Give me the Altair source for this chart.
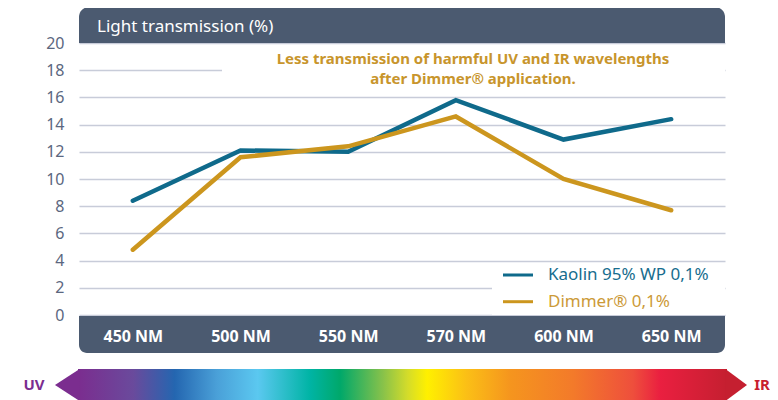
import altair as alt
import pandas as pd

# ---- data ----
categories = ["450 NM", "500 NM", "550 NM", "570 NM", "600 NM", "650 NM"]
kaolin = [8.4, 12.1, 12.0, 15.8, 12.9, 14.4]
dimmer = [4.8, 11.6, 12.4, 14.6, 10.0, 7.7]
series_names = ["Kaolin 95% WP 0,1%", "Dimmer® 0,1%"]
series_colors = ["#0f6a8b", "#cc961e"]
legend_text_colors = ["#176d8e", "#cc9a38"]
y_ticks = [0, 2, 4, 6, 8, 10, 12, 14, 16, 18, 20]
title_text = "Light transmission (%)"
note_lines = ["Less transmission of harmful UV and IR wavelengths",
              "after Dimmer® application."]

rows = []
for c, v in zip(categories, kaolin):
    rows.append({"wl": c, "series": series_names[0], "value": v})
for c, v in zip(categories, dimmer):
    rows.append({"wl": c, "series": series_names[1], "value": v})
df = pd.DataFrame(rows)

FONT = "Noto Sans"
SLATE = "#4b5a70"
W, H = 646, 272

one = alt.Data(values=[{}])

color_scale = alt.Scale(domain=series_names, range=series_colors)
x_enc = alt.X("wl:N", sort=categories,
              scale=alt.Scale(domain=categories, padding=0.5),
              axis=alt.Axis(title=None, labelAngle=0, ticks=False, domain=False,
                            labelColor="white", labelFont=FONT, labelFontSize=16,
                            labelFontWeight="bold", labelBaseline="middle",
                            labelPadding=21, zindex=2, grid=False))
y_enc = alt.Y("value:Q", scale=alt.Scale(domain=[0, 20], nice=False, zero=True),
              axis=alt.Axis(title=None, values=y_ticks, ticks=False, domain=False,
                            labelColor="#5b6780", labelFont=FONT, labelFontSize=16,
                            labelPadding=15, gridColor="#c8ccd9", gridWidth=1.5,
                            zindex=0))

# header bar
header = alt.Chart(one).mark_rect(color=SLATE, cornerRadiusTopLeft=10,
                                  cornerRadiusTopRight=10).encode(
    x=alt.value(0), x2=alt.value(W), y=alt.value(-36), y2=alt.value(0))
header_text = alt.Chart(one).mark_text(text=title_text, color="white", font=FONT,
                                       fontSize=17, align="left",
                                       baseline="alphabetic").encode(
    x=alt.value(18), y=alt.value(-11))

# bottom bar
bottom = alt.Chart(one).mark_rect(color=SLATE, cornerRadiusBottomLeft=8,
                                  cornerRadiusBottomRight=8).encode(
    x=alt.value(0), x2=alt.value(W), y=alt.value(273), y2=alt.value(310))

# white backgrounds for note & legend
note_bg = alt.Chart(one).mark_rect(color="white").encode(
    x=alt.value(143), x2=alt.value(W), y=alt.value(5), y2=alt.value(47))
legend_bg = alt.Chart(one).mark_rect(color="white").encode(
    x=alt.value(413), x2=alt.value(W), y=alt.value(220), y2=alt.value(272))

note_df = pd.DataFrame({"t": note_lines, "ny": [20.5, 41]})
note = alt.Chart(note_df).mark_text(color="#c8952c", font=FONT,
                                    fontSize=15, fontWeight="bold", align="center",
                                    baseline="alphabetic").encode(
    x=alt.value(394), y=alt.Y("ny:Q", scale=None), text="t:N")

# lines
base = alt.Chart(df)
line_k = base.transform_filter(alt.datum.series == series_names[0]).mark_line(
    strokeWidth=4.5, strokeCap="round", strokeJoin="miter").encode(
    x=x_enc, y=y_enc,
    color=alt.Color("series:N", scale=color_scale, legend=None))
line_d = base.transform_filter(alt.datum.series == series_names[1]).mark_line(
    strokeWidth=4.5, strokeCap="round", strokeJoin="miter").encode(
    x=x_enc, y=y_enc,
    color=alt.Color("series:N", scale=color_scale, legend=None))

# manual legend
leg_df = pd.DataFrame({"series": series_names,
                       "ly": [232, 258.7],
                       "tc": legend_text_colors})
leg_lines = alt.Chart(leg_df).mark_rule(strokeWidth=3).encode(
    x=alt.value(424), x2=alt.value(454),
    y=alt.Y("ly:Q", scale=None),
    color=alt.Color("series:N", scale=color_scale, legend=None))
leg_text = alt.Chart(leg_df).mark_text(font=FONT, fontSize=17, align="left",
                                       baseline="middle").encode(
    x=alt.value(469), y=alt.Y("ly:Q", scale=None),
    text="series:N", color=alt.Color("tc:N", scale=None))

# spectrum arrow
stops = [(0.0, "#7b2d8f"), (0.085, "#6a4a9c"), (0.149, "#2466b0"),
         (0.214, "#4aa0d8"), (0.277, "#5bc8f0"), (0.357, "#00b4a5"),
         (0.404, "#00a86a"), (0.470, "#88c24a"), (0.508, "#d4dc2a"),
         (0.538, "#fff000"), (0.599, "#fbbf16"), (0.666, "#f5951e"),
         (0.763, "#f37a2a"), (0.855, "#ee4f3c"), (0.897, "#ea1f40"),
         (1.0, "#c51f30")]
grad = {"gradient": "linear", "x1": 0, "x2": 1, "y1": 0, "y2": 0,
        "stops": [{"offset": o, "color": c} for o, c in stops]}
arrow_body = alt.Chart(one).mark_rect(color=grad).encode(
    x=alt.value(-1), x2=alt.value(648), y=alt.value(326), y2=alt.value(358))
tip_left = alt.Chart(one).mark_point(shape="M0.1,-1L-1.44,0L0.1,1Z", size=1024,
                                     filled=True, fill="#7b2d8f", opacity=1,
                                     strokeWidth=0).encode(
    x=alt.value(-1), y=alt.value(342))
tip_right = alt.Chart(one).mark_point(shape="M-0.1,-1L1.25,0L-0.1,1Z", size=1024,
                                      filled=True, fill="#c51f30", opacity=1,
                                      strokeWidth=0).encode(
    x=alt.value(648), y=alt.value(342))
uv = alt.Chart(one).mark_text(text="UV", color="#7b2d8f", font=FONT, fontSize=15,
                              fontWeight="bold", align="center",
                              baseline="middle").encode(
    x=alt.value(-45), y=alt.value(342))
ir = alt.Chart(one).mark_text(text="IR", color="#c8202e", font=FONT, fontSize=15,
                              fontWeight="bold", align="center",
                              baseline="middle").encode(
    x=alt.value(683), y=alt.value(342))

chart = alt.layer(
    line_k, line_d, header, header_text, bottom, note_bg, legend_bg, note,
    leg_lines, leg_text, arrow_body, tip_left, tip_right, uv, ir
).properties(
    width=W, height=H,
    autosize=alt.AutoSizeParams(type="none"),
    padding={"left": 71, "top": 35, "right": 45, "bottom": 85},
).configure_view(stroke=None)

chart.save("out.html", embed_options={"renderer": "svg", "actions": False})
